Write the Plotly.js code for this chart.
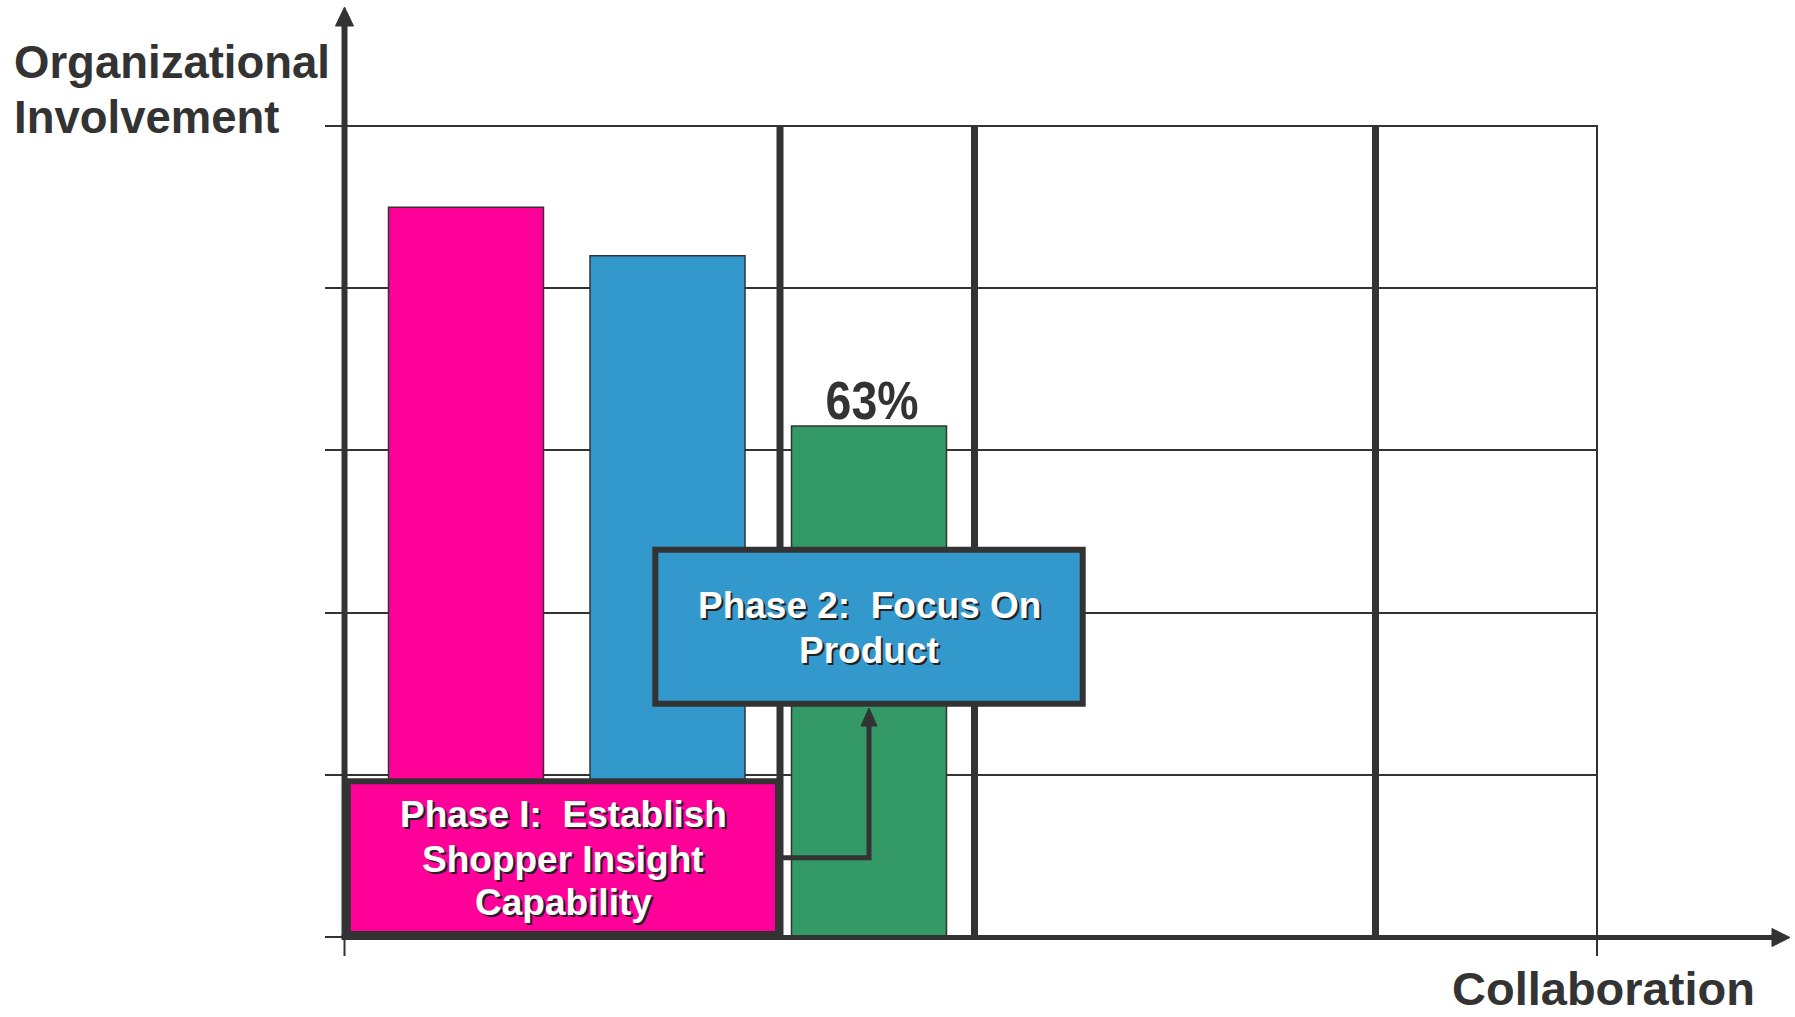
<!DOCTYPE html>
<html>
<head>
<meta charset="utf-8">
<script src="https://cdn.plot.ly/plotly-3.0.1.min.js"></script>
<style>
  html, body { margin: 0; padding: 0; background: #ffffff; }
  #chart { width: 1795px; height: 1017px; }
</style>
</head>
<body>
<div id="chart"></div>
<script>
// ---- data ----
const categories = ["Bar 1", "Bar 2", "Bar 3"];
const values = [90, 84, 63];
const valueLabels = ["", "", "63%"];
const yTitleLines = ["Organizational", "Involvement"];
const xTitle = "Collaboration";
const phase1Lines = ["Phase I:\u00a0 Establish", "Shopper Insight", "Capability"];
const phase2Lines = ["Phase 2:\u00a0 Focus On", "Product"];

// ---- layout geometry (pixels) ----
const W = 1795, H = 1017;
const L = 344, R = 198, T = 126, B = 80;
const PW = W - L - R, PH = H - T - B;
const px = X => (X - L) / PW;
const py = Y => (H - B - Y) / PH;

const DARK = "#333333";
const barColors = ["#FF0099", "#3399CC", "#339966"];
const FONT = "'Liberation Sans', Arial, Helvetica, sans-serif";

const shapes = [];
function line(x0, y0, x1, y1, w, layer) {
  shapes.push({type: "line", xref: "paper", yref: "paper",
    x0: px(x0), y0: py(y0), x1: px(x1), y1: py(y1),
    line: {color: DARK, width: w}, layer: layer || "above"});
}
function tri(pts) {
  const d = "M" + pts.map(p => px(p[0]) + "," + py(p[1])).join("L") + "Z";
  shapes.push({type: "path", xref: "paper", yref: "paper", path: d,
    fillcolor: DARK, line: {color: DARK, width: 1}, layer: "above"});
}
function rect(x0, y0, x1, y1, fill, w) {
  shapes.push({type: "rect", xref: "paper", yref: "paper",
    x0: px(x0), y0: py(y0), x1: px(x1), y1: py(y1),
    fillcolor: fill, line: {color: DARK, width: w}, layer: "above"});
}

// top grid line (edge of the value range)
line(344, 126, 1597, 126, 2, "below");
// thick vertical dividers
line(780, 126, 780, 937, 7);
line(974.5, 126, 974.5, 937, 7);
line(1375.5, 126, 1375.5, 937, 7);
// right boundary with tick
line(1597, 125, 1597, 956, 2);
// left tick below axis
line(344.5, 937, 344.5, 956, 2);
// y axis with arrow
line(344.5, 937, 344.5, 24, 6);
tri([[344.5, 7], [335.5, 26], [353.5, 26]]);
// x axis with arrow
line(341.5, 937.5, 1774, 937.5, 5);
tri([[1790, 937.5], [1772, 928.5], [1772, 946.5]]);

// Phase 2 box
rect(655.3, 549.7, 1082.7, 703.7, "#3399CC", 6);
// Phase I box
rect(347.8, 781.3, 778, 934, "#FF0099", 6);
// connector
shapes.push({type: "path", xref: "paper", yref: "paper",
  path: "M" + px(781) + "," + py(857.7) + "L" + px(869) + "," + py(857.7) + "L" + px(869) + "," + py(722),
  line: {color: DARK, width: 5}, layer: "above"});
tri([[869, 708], [861, 726], [877, 726]]);

const annotations = [];
function txt(text, X, Y, size, opts) {
  opts = opts || {};
  annotations.push(Object.assign({
    text: text, xref: "paper", yref: "paper", x: px(X), y: py(Y),
    xanchor: "center", yanchor: "middle", showarrow: false,
    font: {family: FONT, size: size, color: opts.color || DARK,
           weight: "bold", shadow: opts.shadow || "none"}
  }, opts.extra || {}));
}
// axis titles
txt(yTitleLines[0], 12, 63, 45.5, {extra: {xanchor: "left"}});
txt(yTitleLines[1], 12, 117, 45.5, {extra: {xanchor: "left"}});
txt(xTitle, 1757, 1017, 47, {extra: {xanchor: "right", yanchor: "bottom"}});
// box texts
const sh = "2px 2px 0px #222222";
const p2Y = [605, 650];
phase2Lines.forEach((t, i) => txt(t, 869, p2Y[i], 37, {color: "#ffffff", shadow: sh}));
const p1Y = [814, 859, 902.5];
phase1Lines.forEach((t, i) => txt(t, 563, p1Y[i], 37, {color: "#ffffff", shadow: sh}));
// value label(s) from data
categories.forEach((c, i) => {
  if (valueLabels[i]) {
    annotations.push({text: valueLabels[i], xref: "x", yref: "y", x: c, y: values[i],
      xanchor: "center", yanchor: "middle", yshift: 26, xshift: 3, showarrow: false,
      font: {family: FONT, size: 54, color: DARK, weight: "bold"}});
  }
});

const spacing = 201.5;
const trace = {
  type: "bar", x: categories, y: values,
  width: 155 / spacing,
  marker: {color: barColors, line: {color: DARK, width: 1.5}},
  hoverinfo: "x+y", showlegend: false
};

const layout = {
  width: W, height: H,
  margin: {l: L, r: R, t: T, b: B, pad: 0},
  paper_bgcolor: "#ffffff", plot_bgcolor: "#ffffff",
  showlegend: false,
  xaxis: {type: "category", range: [(L - 466) / spacing, (W - R - 466) / spacing],
          showgrid: false, zeroline: false, showline: false, ticks: "",
          showticklabels: false, fixedrange: true},
  yaxis: {range: [0, 100.01], dtick: 20, tick0: 0, showgrid: true, gridcolor: DARK, gridwidth: 2,
          zeroline: false, showline: false, ticks: "outside", ticklen: 18, tickwidth: 2,
          tickcolor: DARK, showticklabels: false, fixedrange: true},
  shapes: shapes,
  annotations: annotations
};

Plotly.newPlot("chart", [trace], layout, {displayModeBar: false, staticPlot: true}).then(() => {
  // the reference label uses a condensed bold face: narrow it horizontally
  document.querySelectorAll("#chart .annotation-text").forEach(t => {
    if (valueLabels.indexOf(t.textContent) >= 0 && t.textContent) {
      t.style.transformBox = "fill-box";
      t.style.transformOrigin = "center";
      t.style.transform = "scaleX(0.86)";
    }
  });
});
</script>
</body>
</html>
